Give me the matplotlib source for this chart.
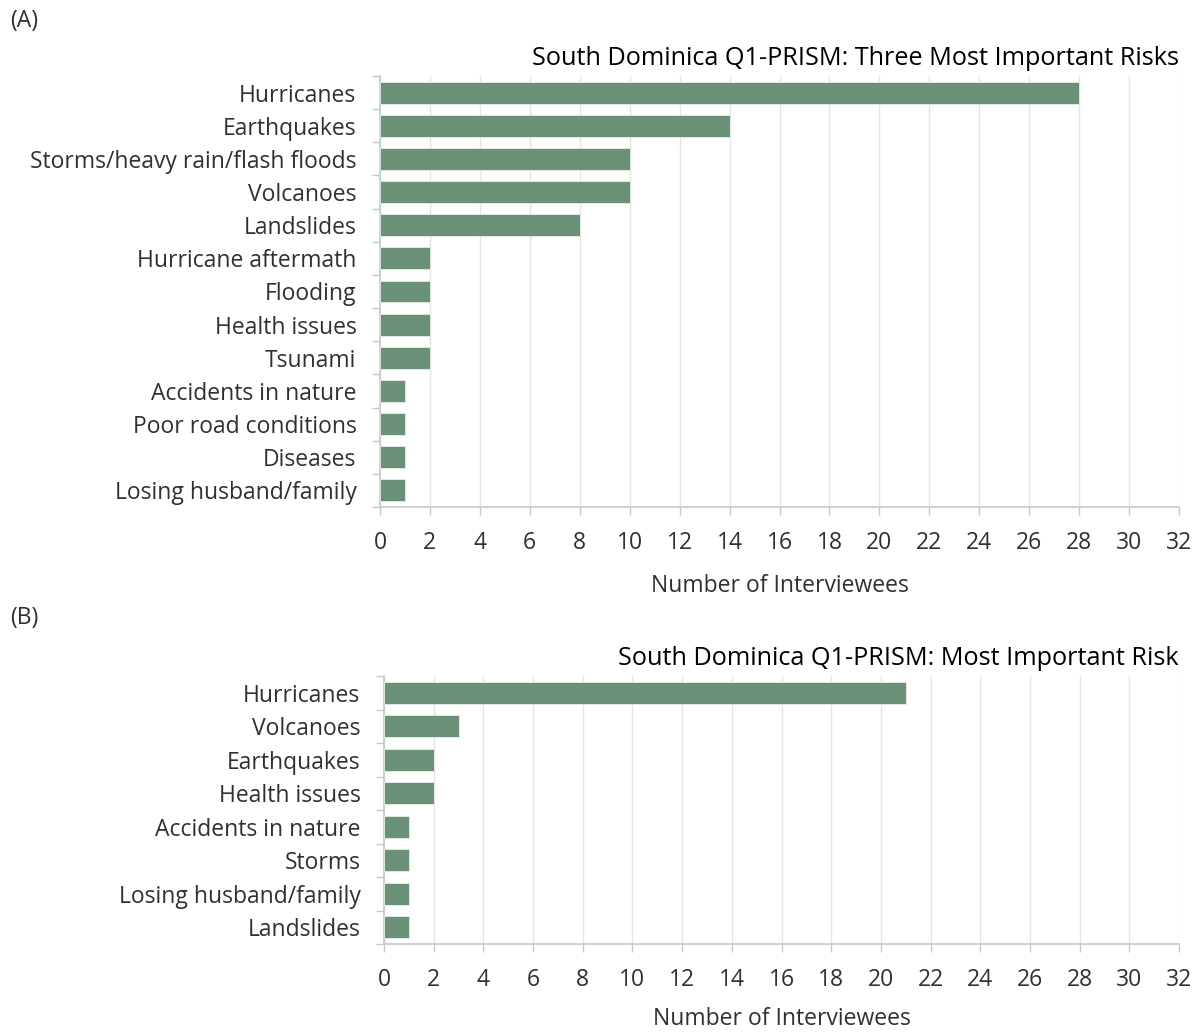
import matplotlib
matplotlib.use("Agg")
import matplotlib.pyplot as plt
import numpy as np

plt.rcParams["font.family"] = ["Open Sans", "DejaVu Sans"]

cats_a = ["Hurricanes", "Earthquakes", "Storms/heavy rain/flash floods", "Volcanoes",
          "Landslides", "Hurricane aftermath", "Flooding", "Health issues", "Tsunami",
          "Accidents in nature", "Poor road conditions", "Diseases", "Losing husband/family"]
vals_a = [28, 14, 10, 10, 8, 2, 2, 2, 2, 1, 1, 1, 1]

cats_b = ["Hurricanes", "Volcanoes", "Earthquakes", "Health issues",
          "Accidents in nature", "Storms", "Losing husband/family", "Landslides"]
vals_b = [21, 3, 2, 2, 1, 1, 1, 1]

title_a = "South Dominica Q1-PRISM: Three Most Important Risks"
title_b = "South Dominica Q1-PRISM: Most Important Risk"
xlab = "Number of Interviewees"

bar_col = "#6c9179"
ax_col = "#c8c8c8"
grid_col = "#e4e4e4"
txt_col = "#303030"
fs = 16.5

W, H = 1200, 1032
fig = plt.figure(figsize=(W / 100, H / 100), dpi=100)


def panel(rect, cats, vals, title, lpad):
    ax = fig.add_axes(rect)
    n = len(cats)
    y = np.arange(n)
    ax.barh(y, vals, height=0.66, color=bar_col, edgecolor="#e8eee9", linewidth=0.6, zorder=3)
    ax.set_ylim(n - 0.5, -0.5)
    ax.set_xlim(0, 32)
    ax.set_xticks(range(0, 33, 2))
    ax.set_yticks(y)
    ax.set_yticklabels(cats)
    ax.set_yticks(np.arange(-0.5, n, 1), minor=True)
    ax.tick_params(axis="y", which="major", length=0, pad=17, labelsize=fs, labelcolor=txt_col)
    ax.tick_params(axis="y", which="minor", length=6, color=ax_col, width=1)
    ax.tick_params(axis="x", which="major", length=6, color=ax_col, width=1, pad=11,
                   labelsize=fs, labelcolor=txt_col)
    ax.grid(axis="x", color=grid_col, linewidth=1, zorder=0)
    for s in ["top", "right"]:
        ax.spines[s].set_visible(False)
    for s in ["left", "bottom"]:
        ax.spines[s].set_color(ax_col)
        ax.spines[s].set_linewidth(1.2)
    ax.set_xlabel(xlab, fontsize=fs, color=txt_col, labelpad=lpad)
    ax.set_title(title, loc="right", fontsize=18.2, fontweight="medium", color="#000000", pad=8)
    return ax


def rect(x0, x1, y0, y1):
    return [x0 / W, 1 - y1 / H, (x1 - x0) / W, (y1 - y0) / H]


panel(rect(380, 1179, 76, 507), cats_a, vals_a, title_a, 14)
panel(rect(384, 1179, 676, 944), cats_b, vals_b, title_b, 11)

fig.text(10 / W, 1 - 21 / H, "(A)", fontsize=fs, va="center", color=txt_col)
fig.text(10 / W, 1 - 618 / H, "(B)", fontsize=fs, va="center", color=txt_col)

fig.savefig("out.png", dpi=100)
